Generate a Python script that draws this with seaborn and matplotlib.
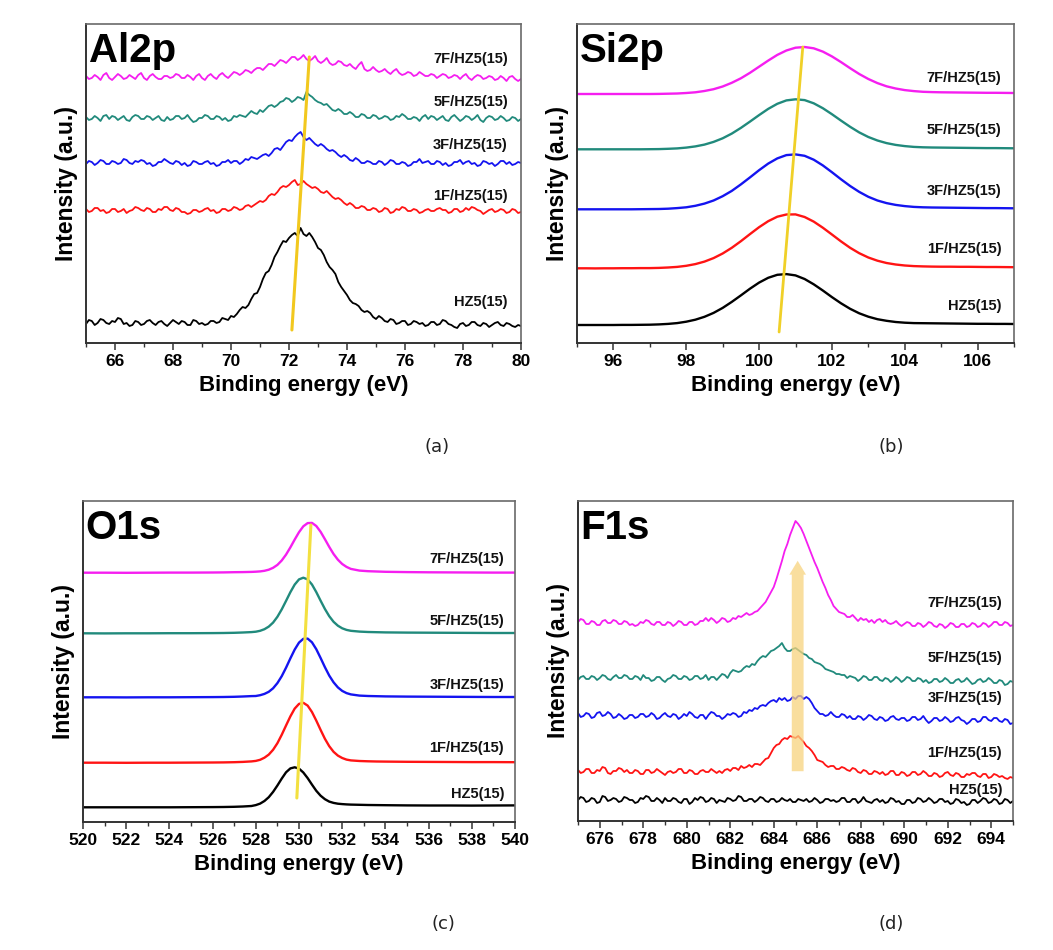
import numpy as np
import pandas as pd
import seaborn as sns
import matplotlib.pyplot as plt

# ---------------- data ----------------
series_names = ['HZ5(15)', '1F/HZ5(15)', '3F/HZ5(15)', '5F/HZ5(15)', '7F/HZ5(15)']
series_colors = ['#000000', '#ff1414', '#1414f0', '#218a7c', '#f51ef0']

# Al2p (x: 65 -> 80, step 0.1)
al_start, al_step = 65.0, 0.1
al_hz5 = [19, 23, 22, 18, 20, 24, 23, 20, 19, 22, 21, 25, 24, 19, 20, 17, 18, 22, 21, 18,
          19, 22, 23, 20, 18, 21, 22, 19, 17, 20, 23, 21, 19, 22, 21, 18, 18, 23, 22, 19,
          20, 18, 19, 22, 22, 20, 21, 25, 24, 23, 27, 26, 29, 33, 36, 35, 38, 44, 49, 50,
          56, 64, 70, 72, 78, 86, 91, 97, 102, 101, 105, 108, 110, 107, 115, 109, 107, 110, 106, 101,
          95, 93, 88, 81, 76, 73, 69, 61, 56, 52, 48, 43, 40, 39, 37, 33, 31, 32, 30, 26,
          24, 27, 25, 22, 21, 24, 23, 19, 20, 22, 22, 18, 19, 22, 21, 19, 20, 17, 18, 21,
          21, 18, 19, 23, 22, 19, 18, 16, 15, 19, 20, 17, 18, 21, 21, 18, 17, 20, 19, 16,
          18, 20, 21, 18, 17, 20, 19, 17, 16, 18, 17]
al_1f = [134, 131, 132, 135, 135, 132, 133, 130, 131, 134, 134, 131, 132, 134, 130, 132, 133, 136, 135, 133,
         132, 135, 134, 131, 131, 134, 133, 136, 136, 133, 132, 135, 134, 131, 131, 129, 130, 133, 133, 131,
         132, 134, 135, 132, 133, 130, 131, 134, 134, 132, 133, 136, 135, 133, 134, 137, 138, 136, 138, 140,
         142, 141, 143, 147, 149, 148, 151, 155, 157, 156, 158, 161, 163, 158, 159, 162, 159, 157, 155, 156,
         154, 151, 150, 152, 149, 146, 144, 145, 143, 140, 138, 140, 138, 135, 135, 137, 136, 133, 133, 135,
         134, 131, 132, 135, 134, 130, 131, 134, 133, 136, 135, 132, 132, 134, 133, 130, 131, 133, 134, 132,
         132, 134, 135, 133, 133, 130, 131, 134, 134, 131, 132, 135, 133, 136, 135, 133, 132, 129, 131, 133,
         134, 131, 132, 134, 133, 130, 131, 134, 133, 130, 131]
al_3f = [179, 182, 181, 178, 180, 183, 182, 179, 179, 182, 181, 179, 180, 184, 183, 180, 179, 182, 181, 183,
         182, 179, 180, 177, 178, 181, 181, 184, 182, 180, 179, 182, 181, 178, 180, 177, 178, 182, 181, 179,
         179, 181, 182, 179, 180, 177, 178, 181, 181, 183, 180, 182, 182, 179, 181, 184, 183, 186, 185, 184,
         186, 188, 189, 187, 190, 194, 195, 193, 197, 201, 203, 202, 206, 209, 211, 206, 203, 205, 202, 199,
         197, 199, 197, 194, 192, 193, 191, 188, 186, 188, 186, 183, 182, 185, 183, 180, 180, 182, 181, 179,
         179, 182, 181, 178, 180, 183, 182, 179, 179, 181, 180, 177, 178, 181, 181, 184, 180, 181, 182, 179,
         179, 182, 181, 178, 180, 177, 178, 181, 181, 183, 179, 181, 182, 179, 180, 177, 178, 182, 181, 179,
         180, 177, 179, 182, 182, 179, 181, 178, 179, 181, 180]
al_5f = [226, 223, 224, 227, 225, 222, 227, 228, 224, 227, 226, 223, 225, 227, 223, 222, 226, 228, 227, 224,
         224, 227, 226, 223, 225, 227, 223, 222, 226, 223, 224, 227, 227, 224, 225, 228, 224, 221, 222, 225,
         225, 228, 227, 224, 224, 227, 226, 223, 225, 222, 223, 227, 226, 228, 227, 226, 229, 232, 230, 229,
         233, 231, 234, 237, 238, 236, 238, 241, 242, 245, 244, 241, 243, 246, 245, 243, 251, 248, 246, 243,
         241, 240, 238, 239, 236, 233, 232, 234, 232, 229, 229, 231, 229, 226, 226, 229, 228, 225, 225, 228,
         227, 224, 225, 227, 226, 223, 224, 227, 226, 229, 227, 224, 224, 226, 225, 222, 226, 228, 224, 227,
         226, 223, 225, 227, 223, 222, 226, 228, 225, 222, 224, 227, 226, 223, 225, 228, 223, 221, 225, 227,
         226, 223, 224, 227, 225, 222, 223, 226, 225, 222, 224]
al_7f = [267, 264, 265, 268, 266, 263, 268, 270, 265, 263, 266, 269, 267, 264, 265, 268, 266, 264, 268, 270,
         265, 263, 267, 269, 266, 264, 264, 267, 267, 265, 266, 269, 268, 265, 265, 268, 266, 263, 267, 269,
         265, 263, 267, 269, 266, 264, 268, 270, 267, 265, 268, 271, 270, 268, 270, 273, 272, 270, 273, 275,
         275, 273, 276, 279, 279, 277, 280, 283, 282, 280, 283, 286, 286, 283, 285, 288, 284, 282, 284, 287,
         282, 280, 282, 285, 280, 278, 279, 282, 281, 278, 277, 279, 276, 274, 278, 281, 274, 272, 273, 276,
         273, 271, 272, 274, 271, 269, 272, 274, 270, 268, 269, 271, 270, 267, 268, 271, 269, 267, 267, 269,
         268, 265, 267, 269, 268, 265, 266, 268, 267, 264, 267, 269, 265, 263, 266, 268, 267, 264, 265, 267,
         266, 263, 264, 267, 265, 262, 266, 267, 264, 262, 264]

# Si2p (x: 95 -> 107, step 0.25)
si_start, si_step = 95.0, 0.25
si_hz5 = [18.0, 18.0, 18.0, 18.0, 18.0, 18.1, 18.1, 18.2,
          18.3, 18.6, 19.1, 19.9, 21.3, 23.3, 26.2, 30.1,
          35.1, 41.1, 47.6, 54.3, 60.4, 65.2, 68.2, 68.9,
          67.6, 64.0, 58.7, 52.5, 45.9, 39.7, 34.2, 29.7,
          26.3, 23.8, 22.2, 21.0, 20.3, 19.9, 19.8, 19.7,
          19.6, 19.5, 19.4, 19.3, 19.2, 19.2, 19.1, 19.1,
          19.0]
si_1f = [74.7, 74.7, 74.6, 74.7, 74.7, 74.8, 74.8, 74.9,
         74.9, 75.1, 75.5, 76.1, 77.2, 78.9, 81.4, 84.9,
         89.5, 95.2, 101.8, 108.9, 115.8, 121.8, 126.3, 128.5,
         128.6, 126.0, 121.4, 115.3, 108.5, 101.6, 95.2, 89.8,
         85.5, 82.3, 80.0, 78.5, 77.5, 76.9, 76.6, 76.4,
         76.3, 76.3, 76.2, 76.2, 76.1, 76.0, 76.0, 75.9,
         75.8]
si_3f = [133.7, 133.7, 133.7, 133.7, 133.7, 133.7, 133.7, 133.8,
         133.9, 134.0, 134.3, 134.9, 135.7, 137.2, 139.4, 142.5,
         146.8, 152.1, 158.6, 165.6, 172.8, 179.4, 184.6, 187.9,
         188.6, 187.2, 183.3, 177.6, 170.8, 163.7, 157.0, 151.1,
         146.2, 142.5, 139.9, 138.1, 136.9, 136.1, 135.7, 135.5,
         135.4, 135.3, 135.2, 135.1, 135.0, 134.9, 134.9, 134.8,
         134.7]
si_5f = [193.7, 193.7, 193.7, 193.7, 193.7, 193.7, 193.7, 193.7,
         193.8, 193.9, 194.2, 194.6, 195.4, 196.6, 198.4, 201.1,
         204.7, 209.4, 215.1, 221.4, 227.9, 234.1, 239.2, 242.6,
         243.7, 242.9, 239.7, 234.8, 228.8, 222.4, 216.2, 210.6,
         206.0, 202.5, 199.9, 198.1, 196.9, 196.1, 195.7, 195.5,
         195.4, 195.3, 195.2, 195.1, 195.0, 194.9, 194.9, 194.8,
         194.7]
si_7f = [249.0, 249.0, 249.0, 249.0, 249.0, 249.0, 249.0, 249.0,
         249.0, 249.1, 249.3, 249.5, 250.0, 250.7, 252.0, 253.8,
         256.5, 260.2, 264.7, 270.2, 276.3, 282.4, 288.1, 292.5,
         295.3, 296.0, 294.7, 291.4, 286.6, 280.9, 274.8, 269.0,
         264.0, 259.9, 256.7, 254.5, 252.9, 251.9, 251.2, 250.9,
         250.7, 250.6, 250.5, 250.4, 250.3, 250.2, 250.2, 250.1,
         250.0]

# O1s
o_x = [520, 521, 522, 523, 524, 525, 526, 526.5, 527, 527.4, 527.8,
       528.0, 528.2, 528.4, 528.6, 528.8, 529.0, 529.2, 529.4, 529.6, 529.8,
       530.0, 530.2, 530.4, 530.6, 530.8, 531.0, 531.2, 531.4, 531.6, 531.8,
       532.0, 532.2, 532.4, 532.8, 533.2, 533.6, 534, 535, 536, 537, 538, 539, 540]
o_hz5 = [14.7, 14.7, 14.7, 14.7, 14.7, 14.8, 14.9, 15.0, 15.2, 15.5, 16.0,
         16.9, 18.4, 21.0, 24.8, 30.1, 36.5, 43.4, 49.7, 53.6, 54.7,
         53.4, 49.5, 43.9, 37.4, 31.2, 26.3, 22.8, 20.4, 19.1, 18.3,
         17.9, 17.6, 17.4, 17.2, 17.0, 16.9, 16.8, 16.6, 16.5, 16.5, 16.4, 16.5, 16.6]
o_1f = [59.3, 59.3, 59.2, 59.3, 59.3, 59.4, 59.5, 59.6, 59.8, 60.1, 60.6,
        61.1, 62.2, 64.3, 67.4, 72.2, 78.8, 87.2, 96.5, 105.6, 113.4,
        118.1, 119.2, 116.4, 110.0, 101.4, 92.1, 83.2, 75.8, 70.2, 66.4,
        64.0, 62.4, 61.6, 61.0, 60.7, 60.5, 60.4, 60.2, 60.1, 60.0, 59.9, 59.9, 59.8]
o_3f = [124.7, 124.7, 124.6, 124.7, 124.7, 124.8, 124.9, 125.0, 125.2, 125.5, 125.9,
        126.0, 126.8, 128.1, 130.2, 133.7, 138.9, 145.8, 154.3, 163.6, 172.4,
        179.4, 183.2, 183.4, 179.7, 172.8, 164.0, 154.8, 146.4, 139.7, 134.6,
        131.1, 128.9, 127.6, 126.4, 126.0, 125.8, 125.6, 125.4, 125.3, 125.2, 125.1, 125.0, 125.0]
o_5f = [188.7, 188.6, 188.7, 188.7, 188.8, 188.8, 188.9, 189.0, 189.2, 189.5, 189.9,
        190.3, 191.2, 192.8, 195.4, 199.4, 205.2, 212.6, 221.1, 229.8, 237.4,
        242.6, 244.3, 242.6, 237.5, 229.9, 221.3, 213.0, 205.8, 200.2, 196.3,
        193.7, 192.1, 191.2, 190.4, 190.0, 189.8, 189.6, 189.4, 189.3, 189.2, 189.1, 189.0, 189.0]
o_7f = [249.3, 249.3, 249.2, 249.3, 249.4, 249.4, 249.5, 249.6, 249.8, 249.9, 250.1,
        250.3, 250.6, 251.2, 252.3, 254.2, 257.1, 261.5, 267.4, 274.6, 282.4,
        289.8, 295.7, 298.9, 299.1, 296.0, 290.2, 282.8, 275.1, 268.0, 262.3,
        258.0, 255.1, 253.1, 251.4, 250.8, 250.5, 250.2, 249.9, 249.7, 249.6, 249.5, 249.4, 249.4]

# F1s (x: 675 -> 695, step 0.125)
f_start, f_step = 675.0, 0.125
f_hz5 = [21, 24, 23, 19, 20, 23, 22, 18, 19, 25, 24, 20, 21, 23, 22, 19,
         20, 24, 23, 21, 21, 18, 19, 23, 22, 25, 24, 20, 20, 23, 21, 18,
         23, 20, 20, 23, 22, 19, 18, 22, 22, 17, 19, 23, 21, 24, 23, 19,
         20, 23, 22, 18, 21, 20, 19, 23, 22, 20, 21, 25, 24, 20, 20, 22,
         22, 19, 21, 24, 23, 20, 19, 22, 22, 19, 20, 23, 21, 20, 22, 19,
         19, 22, 21, 20, 22, 19, 20, 23, 21, 18, 19, 22, 22, 20, 21, 19,
         20, 23, 23, 19, 19, 22, 22, 18, 20, 24, 20, 19, 18, 21, 22, 19,
         21, 18, 19, 23, 22, 19, 20, 17, 17, 21, 21, 18, 19, 23, 22, 19,
         20, 23, 21, 18, 19, 22, 22, 19, 20, 17, 18, 22, 21, 18, 19, 16,
         17, 21, 21, 18, 20, 23, 22, 18, 19, 22, 21, 17, 18, 22, 21, 18,
         20]
f_1f = [51, 48, 49, 52, 52, 48, 48, 51, 50, 54, 53, 48, 47, 50, 50, 53,
        52, 49, 51, 48, 48, 51, 50, 47, 47, 51, 51, 48, 49, 52, 50, 48,
        46, 49, 50, 48, 49, 52, 52, 48, 48, 51, 50, 47, 47, 50, 51, 49,
        49, 52, 50, 48, 50, 48, 51, 52, 50, 53, 53, 51, 55, 53, 54, 56,
        54, 57, 57, 56, 59, 62, 63, 68, 73, 76, 77, 81, 83, 82, 85, 84,
        83, 85, 82, 79, 75, 73, 70, 66, 61, 60, 59, 56, 54, 55, 55, 52,
        52, 54, 53, 51, 50, 53, 52, 49, 48, 51, 50, 47, 47, 50, 49, 47,
        49, 46, 47, 50, 50, 46, 46, 49, 48, 45, 46, 49, 49, 46, 47, 50,
        48, 45, 45, 48, 47, 44, 45, 48, 49, 46, 45, 48, 47, 44, 44, 47,
        46, 48, 48, 45, 44, 47, 47, 43, 44, 47, 46, 44, 45, 43, 42, 44,
        43]
f_3f = [108, 104, 105, 108, 107, 103, 104, 108, 109, 105, 106, 109, 107, 103, 104, 107,
        105, 102, 103, 106, 106, 103, 104, 107, 107, 104, 105, 108, 106, 102, 103, 106,
        108, 105, 104, 107, 106, 102, 104, 107, 105, 109, 107, 104, 103, 106, 106, 102,
        106, 109, 108, 105, 105, 102, 104, 107, 106, 108, 107, 104, 105, 109, 108, 111,
        110, 113, 112, 115, 116, 115, 118, 120, 121, 119, 123, 121, 123, 120, 121, 124,
        122, 125, 125, 122, 124, 122, 118, 113, 110, 107, 107, 105, 106, 109, 106, 104,
        104, 107, 106, 103, 105, 102, 102, 105, 104, 101, 103, 106, 105, 102, 101, 104,
        103, 100, 101, 104, 105, 102, 101, 103, 103, 100, 101, 104, 104, 101, 102, 105,
        101, 98, 100, 103, 103, 100, 101, 104, 102, 99, 100, 103, 104, 101, 100, 97,
        99, 102, 102, 99, 100, 104, 104, 101, 100, 103, 103, 100, 99, 102, 101, 97,
        98]
f_5f = [141, 144, 145, 142, 142, 145, 144, 141, 143, 146, 145, 142, 141, 144, 146, 143,
        143, 146, 145, 142, 142, 145, 144, 141, 146, 143, 143, 140, 141, 144, 144, 141,
        139, 142, 143, 146, 145, 142, 142, 145, 144, 141, 142, 145, 145, 142, 143, 146,
        141, 144, 144, 141, 144, 147, 146, 143, 148, 151, 150, 149, 150, 153, 155, 154,
        157, 156, 160, 163, 165, 164, 167, 170, 171, 173, 175, 178, 173, 170, 170, 172,
        173, 171, 169, 167, 166, 163, 162, 159, 158, 157, 155, 152, 151, 150, 149, 147,
        147, 146, 146, 143, 145, 144, 143, 140, 142, 145, 144, 141, 141, 144, 144, 141,
        140, 143, 142, 139, 141, 144, 142, 139, 141, 144, 143, 140, 140, 143, 142, 139,
        141, 138, 139, 142, 142, 139, 140, 143, 141, 138, 138, 141, 142, 139, 140, 143,
        140, 137, 138, 141, 142, 139, 140, 143, 141, 138, 138, 141, 140, 136, 137, 140,
        139]
f_7f = [199, 202, 201, 197, 197, 200, 199, 196, 196, 200, 201, 198, 198, 201, 200, 197,
        197, 200, 199, 196, 197, 195, 196, 199, 198, 201, 200, 197, 196, 199, 199, 196,
        196, 199, 198, 195, 197, 200, 199, 196, 196, 199, 199, 196, 197, 200, 200, 203,
        200, 203, 201, 198, 200, 203, 202, 199, 200, 203, 202, 205, 204, 206, 208, 206,
        207, 209, 210, 213, 216, 219, 224, 229, 234, 242, 251, 260, 270, 277, 286, 293,
        300, 297, 293, 287, 280, 273, 266, 259, 253, 246, 239, 233, 226, 221, 215, 212,
        209, 208, 207, 204, 204, 206, 203, 200, 203, 201, 202, 199, 201, 198, 201, 202,
        199, 201, 198, 197, 198, 200, 197, 195, 197, 199, 198, 195, 195, 198, 197, 194,
        196, 199, 198, 195, 194, 197, 196, 193, 195, 198, 197, 194, 194, 197, 197, 194,
        195, 198, 197, 194, 195, 198, 197, 194, 196, 199, 199, 196, 196, 199, 198, 195,
        196]

# guide lines (peak shift markers)
guide_al = ([72.1, 72.7], [13, 286])
guide_si = ([100.55, 101.2], [11, 296])
guide_o = ([529.9, 530.55], [24, 297])
arrow_f = (685.1, 47, 263)

# label placement (value units of each panel)
lab_al = (79.55, [41, 147, 198, 241, 284])
lab_si = (106.65, [37, 94, 152, 213, 265])
lab_o = (539.5, [28, 74, 137, 201, 263])
lab_f = (694.5, [31, 68, 123, 163, 218])

# ---------------- plot ----------------
sns.set_style('ticks')
plt.rcParams['font.family'] = ['Liberation Sans', 'DejaVu Sans']
plt.rcParams['text.color'] = 'black'
plt.rcParams['axes.labelcolor'] = 'black'
plt.rcParams['xtick.color'] = 'black'
plt.rcParams['xtick.labelcolor'] = 'black'

fig = plt.figure(figsize=(10.53, 9.5), dpi=100)
W, H = 1053, 950
ax_a = fig.add_axes([86 / W, 1 - 343 / H, 435 / W, 319 / H])
ax_b = fig.add_axes([577 / W, 1 - 343 / H, 437 / W, 319 / H])
ax_c = fig.add_axes([83 / W, 1 - 822 / H, 432 / W, 321 / H])
ax_d = fig.add_axes([578 / W, 1 - 821 / H, 435 / W, 320 / H])


def grid(start, step, n):
    return start + step * np.arange(n)


def draw(ax, xs, ys_list, lw):
    for y, c in zip(ys_list, series_colors):
        df = pd.DataFrame({'x': xs, 'y': y})
        sns.lineplot(data=df, x='x', y='y', ax=ax, color=c, linewidth=lw,
                     estimator=None, sort=False, legend=False)


def style(ax, xlim, ylim, ticks, title, labels):
    ax.set_xlim(*xlim)
    ax.set_ylim(*ylim)
    ax.set_yticks([])
    ax.set_xticks(ticks)
    ax.set_xticklabels([str(t) for t in ticks], fontsize=12.5, fontweight='bold', color='black')
    ax.set_xticks(np.arange(xlim[0], xlim[1] + 0.01, 1), minor=True)
    ax.tick_params(axis='x', which='major', direction='out', length=5, width=1.1,
                   pad=3, color='#333333')
    ax.tick_params(axis='x', which='minor', direction='out', length=3, width=1.0,
                   color='#333333')
    for s in ['left', 'bottom']:
        ax.spines[s].set_color('#333333')
        ax.spines[s].set_linewidth(1.4)
    for s in ['top', 'right']:
        ax.spines[s].set_color('#6a6a6a')
        ax.spines[s].set_linewidth(1.2)
    ax.set_xlabel('Binding energy (eV)', fontsize=16, fontweight='bold', labelpad=4, color='black')
    ax.set_ylabel('Intensity (a.u.)', fontsize=16.5, fontweight='bold', labelpad=6, color='black')
    ax.text(0.006, 0.975, title, transform=ax.transAxes, ha='left', va='top',
            fontsize=29, fontweight='bold', color='black')
    lx, lys = labels
    for name, ly in zip(series_names, lys):
        ax.text(lx, ly, name, ha='right', va='center', fontsize=10.5,
                fontweight='bold', color='#111111')


# (a) Al2p
xa = grid(al_start, al_step, len(al_hz5))
draw(ax_a, xa, [al_hz5, al_1f, al_3f, al_5f, al_7f], 1.3)
ax_a.plot(*guide_al, color='#f2c81e', lw=2.2, zorder=5)
style(ax_a, (65, 80), (0, 319), list(range(66, 81, 2)), 'Al2p', lab_al)

# (b) Si2p
xb = grid(si_start, si_step, len(si_hz5))
draw(ax_b, xb, [si_hz5, si_1f, si_3f, si_5f, si_7f], 1.7)
ax_b.plot(*guide_si, color='#f0d028', lw=2.0, zorder=5)
style(ax_b, (95, 107), (0, 319), list(range(96, 107, 2)), 'Si2p', lab_si)

# (c) O1s
draw(ax_c, np.array(o_x, dtype=float), [o_hz5, o_1f, o_3f, o_5f, o_7f], 1.7)
ax_c.plot(*guide_o, color='#f3e040', lw=2.2, zorder=5)
style(ax_c, (520, 540), (0, 321), list(range(520, 541, 2)), 'O1s', lab_o)

# (d) F1s
xd = grid(f_start, f_step, len(f_hz5))
draw(ax_d, xd, [f_hz5, f_1f, f_3f, f_5f, f_7f], 1.3)
ax_d.annotate('', xy=(arrow_f[0], arrow_f[2]), xytext=(arrow_f[0], arrow_f[1]),
              arrowprops=dict(arrowstyle='simple,head_width=1.2,head_length=1.0,tail_width=0.85',
                              mutation_scale=10, color='#f8d37e', alpha=0.75, lw=0),
              zorder=6)
style(ax_d, (675, 695), (0, 320), list(range(676, 695, 2)), 'F1s', lab_f)

# panel letters
for txt, px, py in [('(a)', 437, 447), ('(b)', 891, 447), ('(c)', 443, 924), ('(d)', 891, 924)]:
    fig.text(px / W, 1 - py / H, txt, ha='center', va='center', fontsize=13,
             family=['DejaVu Sans'], color='#222222')

fig.savefig('out.png', dpi=100)
